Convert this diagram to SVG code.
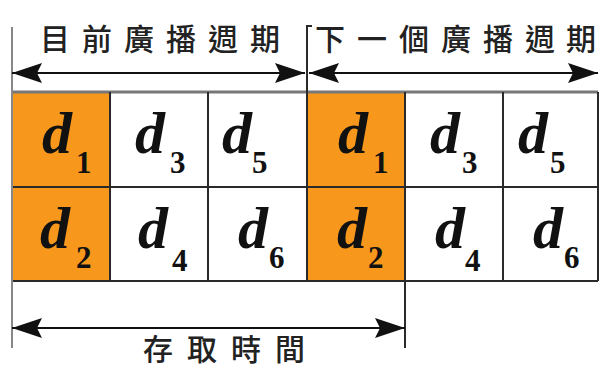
<svg xmlns="http://www.w3.org/2000/svg" width="601" height="368" viewBox="0 0 601 368">
<style>
.cjk{font-family:"Noto Sans CJK TC","Noto Sans CJK SC",sans-serif;font-size:30px;font-weight:500;fill:#222}
.d{font-family:"Liberation Serif",serif;font-style:italic;font-weight:bold;font-size:60px;fill:#111}
.s{font-family:"Liberation Serif",serif;font-weight:bold;font-size:31px;fill:#111}
.orange{fill:#F7981D}
.grid{stroke:#2a2a2a;stroke-width:2;fill:none}
.dim{stroke:#2a2a2a;stroke-width:2;fill:none}
.arr{stroke:#111;stroke-width:2;fill:none;marker-start:url(#ah);marker-end:url(#ah)}
</style>
<defs>
<marker id="ah" viewBox="0 0 30 20" refX="30" refY="10" markerWidth="30" markerHeight="20" markerUnits="userSpaceOnUse" orient="auto-start-reverse">
<path d="M0,0 L30,10 L0,20 L5,10 Z" fill="#111"/>
</marker>
</defs>
<rect width="601" height="368" fill="#fff"/>
<g id="cells">
<rect class="orange" x="12" y="92" width="98" height="189"/>
<rect class="orange" x="307" y="92" width="98" height="189"/>
</g>
<g id="grid">
<line x1="12" y1="92" x2="598" y2="92" stroke="#777" stroke-width="3"/>
<line class="grid" x1="12" y1="187" x2="598" y2="187"/>
<line class="grid" x1="12" y1="281" x2="598" y2="281"/>
<line class="grid" x1="110" y1="92" x2="110" y2="281"/>
<line class="grid" x1="208" y1="92" x2="208" y2="281"/>
<line class="grid" x1="503" y1="92" x2="503" y2="281"/>
<line class="grid" x1="598" y1="92" x2="598" y2="281"/>
</g>
<g id="connectors">
<line x1="12" y1="27" x2="12" y2="348" stroke="#888" stroke-width="2"/>
<path class="dim" d="M312,26 L307,26 L307,281"/>
<line class="dim" x1="405" y1="92" x2="405" y2="348"/>
<line class="arr" x1="12" y1="73" x2="305" y2="73"/>
<line class="arr" x1="309" y1="73" x2="598" y2="73"/>
<line class="arr" x1="12" y1="328" x2="405" y2="328"/>
</g>
<g id="labels">
<text class="cjk" x="40 82 124 166 208 250" y="50">目前廣播週期</text>
<text class="cjk" x="315 357 399 441 483 525 566" y="50">下一個廣播週期</text>
<text class="cjk" x="143 187 231 275" y="360">存取時間</text>
</g>
<g id="data">
<g id="r1c1"><text class="d" x="42" y="153">d</text><text class="s" x="76" y="173">1</text></g>
<g id="r1c2"><text class="d" x="135" y="153">d</text><text class="s" x="170" y="173">3</text></g>
<g id="r1c3"><text class="d" x="222" y="153">d</text><text class="s" x="252" y="173">5</text></g>
<g id="r1c4"><text class="d" x="338" y="153">d</text><text class="s" x="373" y="173">1</text></g>
<g id="r1c5"><text class="d" x="430" y="153">d</text><text class="s" x="462" y="173">3</text></g>
<g id="r1c6"><text class="d" x="518" y="153">d</text><text class="s" x="550" y="173">5</text></g>
<g id="r2c1"><text class="d" x="40" y="248">d</text><text class="s" x="76" y="268">2</text></g>
<g id="r2c2"><text class="d" x="138" y="248">d</text><text class="s" x="172" y="271">4</text></g>
<g id="r2c3"><text class="d" x="238" y="248">d</text><text class="s" x="269" y="268">6</text></g>
<g id="r2c4"><text class="d" x="337" y="248">d</text><text class="s" x="368" y="268">2</text></g>
<g id="r2c5"><text class="d" x="435" y="248">d</text><text class="s" x="465" y="271">4</text></g>
<g id="r2c6"><text class="d" x="533" y="248">d</text><text class="s" x="564" y="268">6</text></g>
</g>
</svg>
